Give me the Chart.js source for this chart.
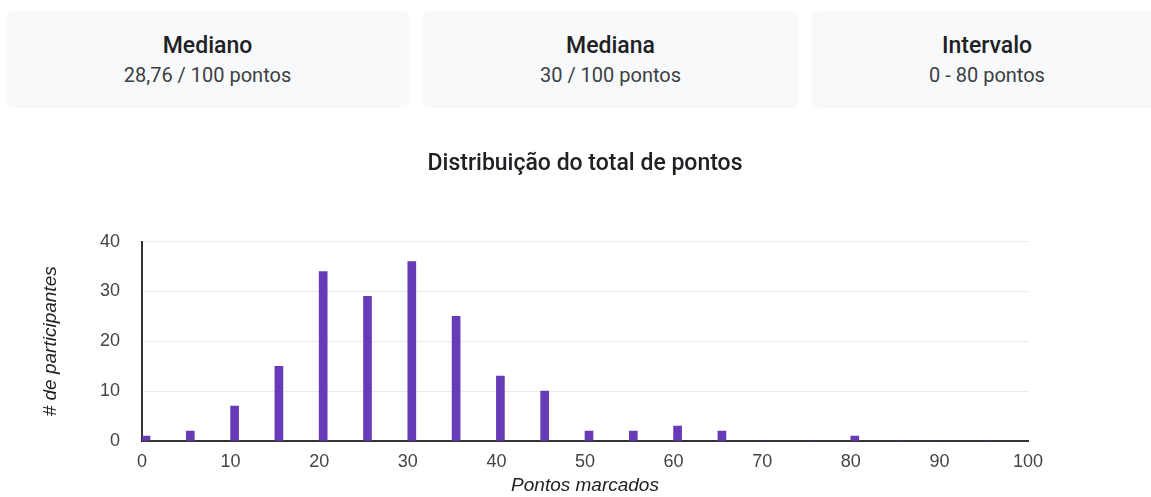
<!DOCTYPE html>
<html lang="pt">
<head>
  <meta charset="UTF-8" />
  <title>Distribuição do total de pontos</title>
  <style>
    html, body { margin: 0; padding: 0; background: #fff; }
    body { width: 1151px; height: 497px; position: relative; overflow: hidden; font-family: Roboto, sans-serif; }
    .card { position: absolute; top: 11px; height: 97px; background: #f8f9fa; border-radius: 7px; text-align: center; }
    .card .lbl { position: absolute; left: 0; right: 0; top: 21px; font-size: 23px; font-weight: 500; color: #202124; line-height: 28px; }
    .card .val { position: absolute; left: 0; right: 0; top: 52px; font-size: 20px; color: #3c4043; line-height: 24px; }
    #wrap { position: absolute; left: 0; top: 130px; width: 1151px; height: 367px; }
  </style>
</head>
<body>
  <div class="card" style="left:6px;width:403px"><div class="lbl">Mediano</div><div class="val">28,76 / 100 pontos</div></div>
  <div class="card" style="left:422px;width:377px"><div class="lbl">Mediana</div><div class="val">30 / 100 pontos</div></div>
  <div class="card" style="left:812px;width:350px"><div class="lbl">Intervalo</div><div class="val">0 - 80 pontos</div></div>
  <div id="wrap"><canvas id="chart"></canvas></div>
  <script src="https://cdn.jsdelivr.net/npm/chart.js@4/dist/chart.umd.min.js"></script>
  <script>
// pontos marcados (início de cada faixa) e número de participantes
const scores = [0, 5, 10, 15, 20, 25, 30, 35, 40, 45, 50, 55, 60, 65, 70, 75, 80, 85, 90, 95, 100]
const counts = [1, 2, 7, 15, 34, 29, 36, 25, 13, 10, 2, 2, 3, 2, 0, 0, 1, 0, 0, 0, 0]
const yTicks = [0, 10, 20, 30, 40]
const xTicks = [0, 10, 20, 30, 40, 50, 60, 70, 80, 90, 100]

const tickFont = { family: '"Liberation Sans", Arial, sans-serif', size: 18 }
const titleFont = { family: '"Liberation Sans", Arial, sans-serif', size: 19, style: 'italic' }

const points = scores.map((s, i) => ({ x: s, y: counts[i] }))

new Chart(document.getElementById('chart'), {
  type: 'bar',
  data: {
    datasets: [
      // vazio: empurra as barras para começar no valor do eixo
      { label: '', data: [], barThickness: 8 },
      {
        label: '# de participantes',
        data: points,
        backgroundColor: '#673ab7',
        borderWidth: 0,
        barThickness: 8
      }
    ]
  },
  options: {
    responsive: true,
    maintainAspectRatio: false,
    animation: false,
    layout: { padding: { left: 0, right: 123, top: 0, bottom: 0 } },
    plugins: {
      legend: { display: false },
      tooltip: { enabled: false },
      title: {
        display: true,
        fullSize: false,
        text: 'Distribuição do total de pontos',
        color: '#202124',
        font: { family: 'Roboto, sans-serif', size: 23, weight: '500' },
        padding: { top: 20, bottom: 64 }
      }
    },
    scales: {
      x: {
        type: 'linear',
        offset: false,
        min: 0,
        max: 100,
        afterBuildTicks: s => { s.ticks = xTicks.map(v => ({ value: v })) },
        afterFit: s => { s.height = 56 },
        grid: { display: false, offset: false },
        border: { display: true, color: '#333', width: 2 },
        ticks: { color: '#444', font: tickFont, padding: 2, maxRotation: 0 },
        title: { display: true, text: 'Pontos marcados', color: '#222', font: titleFont, padding: { top: 0, bottom: 0 } }
      },
      y: {
        min: 0,
        max: 40,
        afterBuildTicks: s => { s.ticks = yTicks.map(v => ({ value: v })) },
        afterFit: s => { s.width = 142 },
        grid: { color: '#ebebeb', drawTicks: false },
        border: { display: true, color: '#333', width: 2 },
        ticks: { color: '#444', font: tickFont, padding: 22 },
        title: { display: true, text: '# de participantes', color: '#222', font: titleFont, padding: { top: 39, bottom: 0 } }
      }
    }
  }
})
  </script>
</body>
</html>
